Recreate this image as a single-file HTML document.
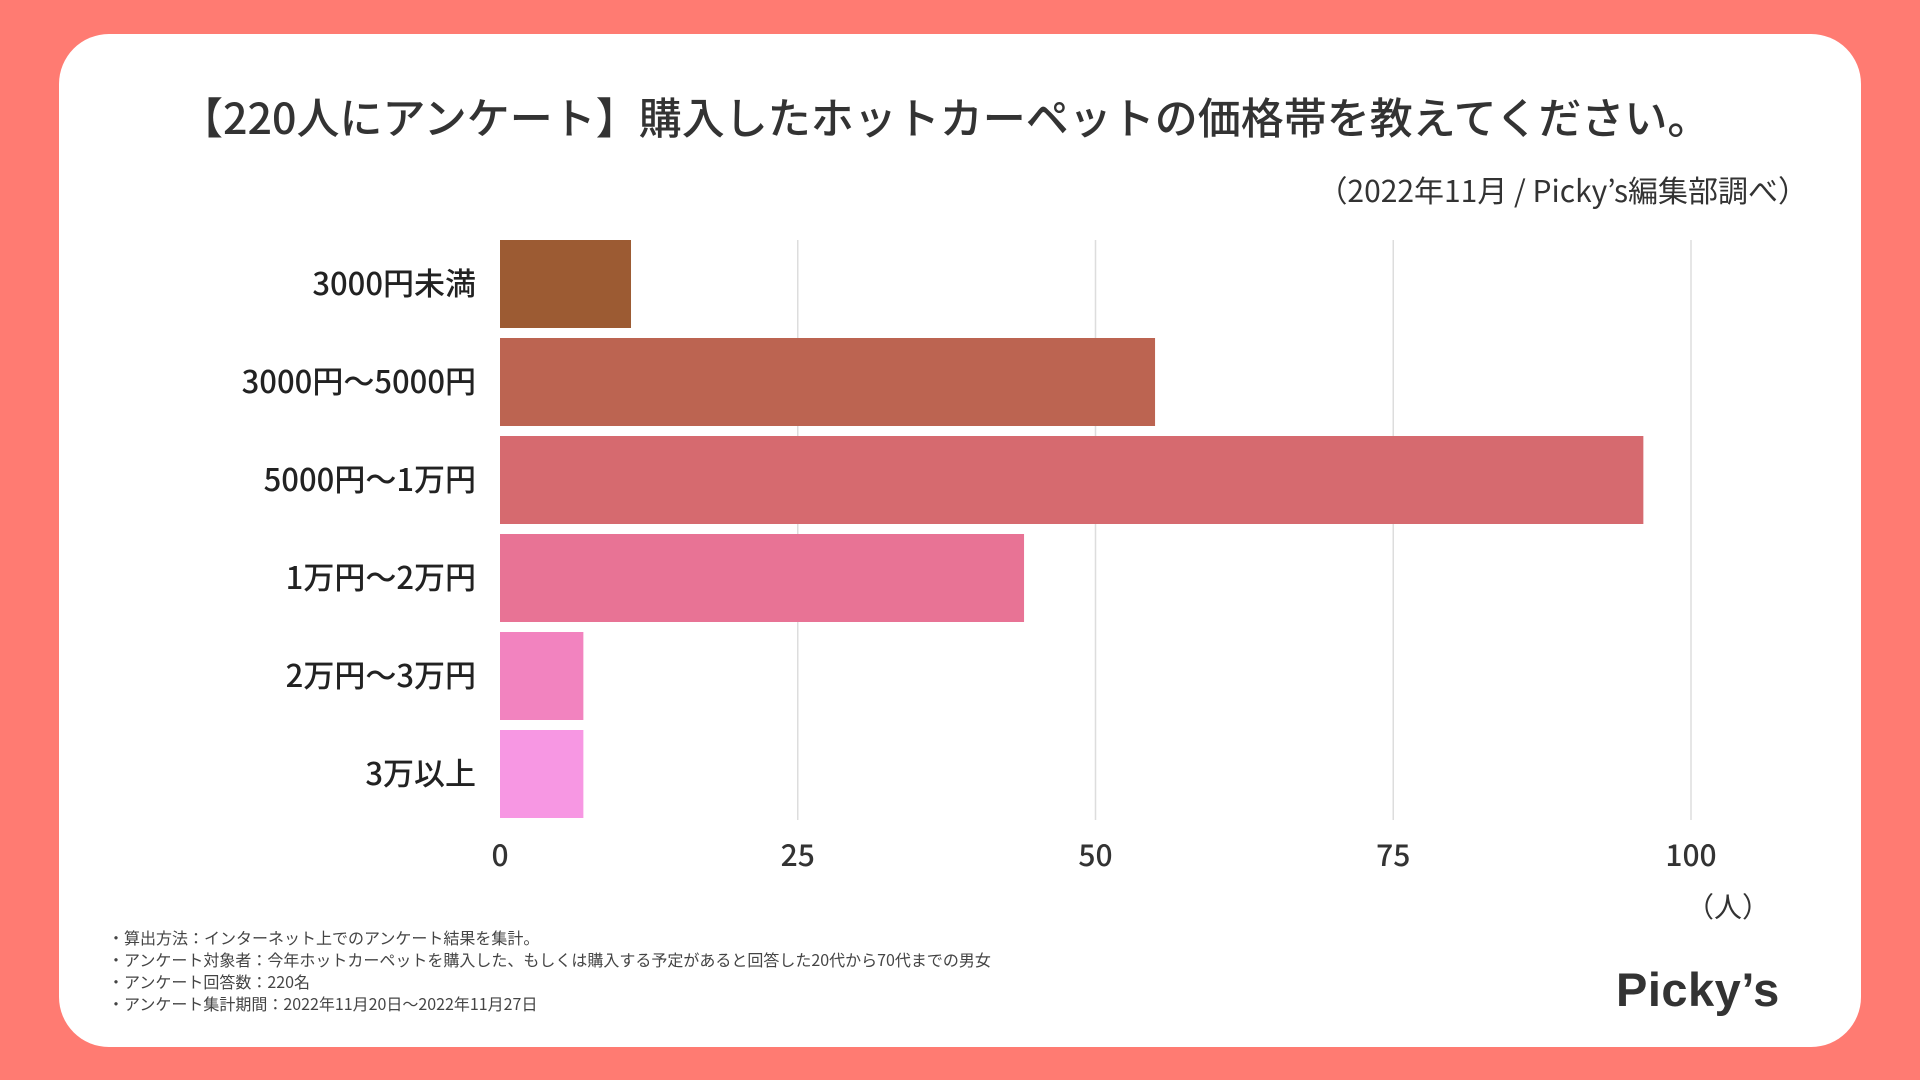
<!DOCTYPE html>
<html><head><meta charset="utf-8"><style>
html,body{margin:0;padding:0;width:1920px;height:1080px;overflow:hidden;background:#FF7B72;}
body{font-family:"Liberation Sans","Noto Sans CJK JP",sans-serif;color:#333;}
#card{position:absolute;left:59px;top:34px;width:1802px;height:1013px;background:#fff;border-radius:50px;}
.abs{position:absolute;white-space:nowrap;}
</style></head><body>
<div id="card"></div>
<div class="abs" style="left:180px;top:85px;font-size:43px;font-weight:500;color:#333;font-family:'Noto Sans CJK JP',sans-serif;">【220人にアンケート】購入したホットカーペットの価格帯を教えてください。</div>
<div class="abs" style="right:112px;top:167px;font-size:30px;color:#333;font-family:'Noto Sans CJK JP',sans-serif;">（2022年11月 / Picky’s編集部調べ）</div>
<svg id="chart" width="1920" height="1080" style="position:absolute;left:0;top:0;"></svg>
<div class="abs" style="left:1686px;top:886px;font-size:28px;font-family:'Noto Sans CJK JP',sans-serif;">（人）</div>
<div class="abs" style="left:108px;top:926px;font-size:16px;line-height:22px;color:#444;font-family:'Noto Sans CJK JP',sans-serif;">
・算出方法：インターネット上でのアンケート結果を集計。<br>
・アンケート対象者：今年ホットカーペットを購入した、もしくは購入する予定があると回答した20代から70代までの男女<br>
・アンケート回答数：220名<br>
・アンケート集計期間：2022年11月20日〜2022年11月27日</div>
<div class="abs" style="left:1616px;top:962px;font-size:47px;font-weight:bold;color:#333;letter-spacing:0.5px;">Picky’s</div>
<script>
const categories=["3000円未満","3000円〜5000円","5000円〜1万円","1万円〜2万円","2万円〜3万円","3万以上"];
const values=[11,55,96,44,7,7];
const colors=["#9C5B33","#BC6451","#D66A6F","#E87395","#F283BF","#F797E3"];
const ticks=[0,25,50,75,100];
const svg=document.getElementById('chart');
const NS="http://www.w3.org/2000/svg";
const x0=500,x100=1691,yTop=240,pitch=98,barH=88,gridBottom=820;
const xs=v=>x0+(x100-x0)*v/100;
function mk(t,a){const e=document.createElementNS(NS,t);for(const k in a)e.setAttribute(k,a[k]);svg.appendChild(e);return e;}
ticks.forEach((t,i)=>{
  if(t>0){const l=mk('line',{x1:xs(t),x2:xs(t),y1:yTop,y2:gridBottom,stroke:'#ddd','stroke-width':1.5});
  
  }
  const tx=mk('text',{x:xs(t),y:866,'text-anchor':'middle','font-size':30,fill:'#333','font-family':'Noto Sans CJK JP, sans-serif','font-weight':500});
  tx.textContent=t;
  
  
});
categories.forEach((c,i)=>{
  const y=yTop+i*pitch;
  const r=mk('rect',{x:x0,y:y,width:xs(values[i])-x0,height:barH,fill:colors[i]});
  
  
  const t=mk('text',{x:476,y:y+barH/2+11,'text-anchor':'end','font-size':31,fill:'#222','font-family':'Noto Sans CJK JP, sans-serif','font-weight':500});
  t.textContent=c;
  
  
});
</script>
</body></html>
